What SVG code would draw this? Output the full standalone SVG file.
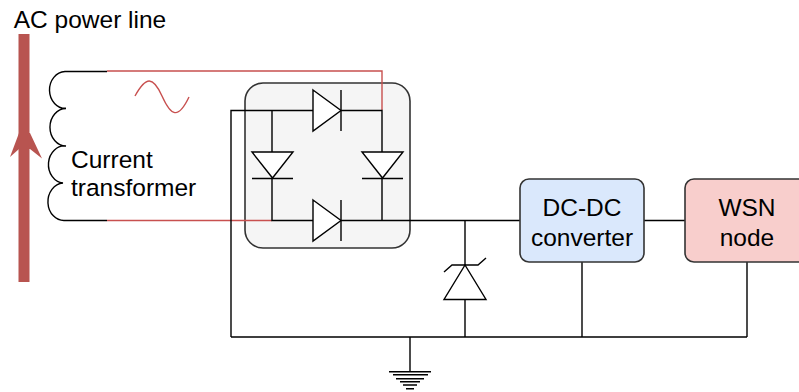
<svg xmlns="http://www.w3.org/2000/svg" width="799" height="392" viewBox="0 0 799 392">
<style>
text{font-family:"Liberation Sans",Arial,sans-serif;font-size:24.5px;fill:#000;text-anchor:middle}
.w{fill:none;stroke:#000;stroke-width:1.4}
.r{fill:none;stroke:#c8504f;stroke-width:1.4}
.d{fill:#fff;stroke:#000;stroke-width:1.4}
.box{stroke:#333;stroke-width:1.6}
</style>
<rect width="799" height="392" fill="#fff"/>
<g id="power-line">
<rect x="18.500" y="34" width="11" height="248" fill="#b85450"/>
<path d="M19 133L10 157L19 149H30L42 158.500L30 133Z" fill="#b85450"/>
<text x="90" y="27.500">AC power line</text>
</g>
<g id="bridge-box"><rect x="245" y="83" width="165" height="165" rx="18" fill="#f5f5f5" class="box"/></g>
<g id="connectors">
<path class="r" d="M107 71H382V110"/>
<path class="r" d="M107 220.500H272"/>
<path class="r" d="M135 96C146 76 153 76 162 96S178 120 189 97"/>
<path class="w" d="M107 71.500H65A16 18.500 0 0 0 66 108.500A16 18.700 0 0 0 66 146A16 18.500 0 0 0 63 183A16 18.700 0 0 0 65 220.500H107"/>
<path class="w" d="M231 337V110.500H313M341 110.500H382V152M272 110.500V152M272 178V220.500H313M341 220.500H520M382 178V220.500"/>
<path class="w" d="M465 220.500V265M465 299V337M644 220.500H685M582 262V337M747 262V337M231 337H747M410 337V371"/>
</g>
<g id="diode-top"><path class="d" d="M313 90L341 110.500L313 131Z"/><path class="w" d="M341 90V131"/></g>
<g id="diode-bottom"><path class="d" d="M313 200L341 220.500L313 241Z"/><path class="w" d="M341 200V241"/></g>
<g id="diode-left"><path class="d" d="M252 152H293L272.500 178Z"/><path class="w" d="M252 178.500H293"/></g>
<g id="diode-right"><path class="d" d="M362 152H403L382.500 178Z"/><path class="w" d="M362 178.500H403"/></g>
<g id="zener"><path class="d" d="M444 299.500H486L465 265Z"/><path class="w" d="M444 272L452 265H478L486 258"/></g>
<g id="ground"><path class="w" d="M389 371.700H431M393 374.700H428M396 378.700H424M400 381.700H420M403 385H417M406 388.700H414"/></g>
<g id="current-transformer"><text x="71" y="168" style="text-anchor:start">Current</text><text x="71" y="196" style="text-anchor:start">transformer</text></g>
<g id="dc-dc"><rect x="520" y="179" width="124" height="83" rx="9" fill="#dae8fc" class="box"/><text x="582" y="216">DC-DC</text><text x="582" y="246">converter</text></g>
<g id="wsn"><rect x="685" y="179" width="125" height="83" rx="9" fill="#f8cecc" class="box"/><text x="747" y="216">WSN</text><text x="747" y="246">node</text></g>
</svg>
